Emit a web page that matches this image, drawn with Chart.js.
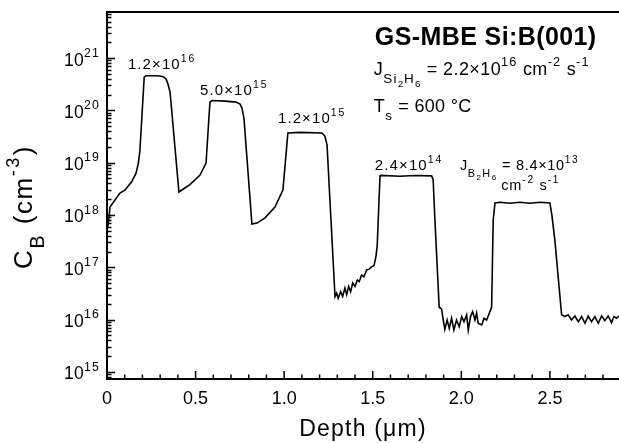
<!DOCTYPE html>
<html>
<head>
<meta charset="utf-8">
<script src="https://cdn.jsdelivr.net/npm/chart.js@4.4.1/dist/chart.umd.min.js"></script>
<style>
  html, body { margin: 0; background: #fff; }
  canvas { display: block; }
</style>
</head>
<body>
<canvas id="profile" width="619" height="443"></canvas>
<script>
// SIMS boron depth profile, five B2H6 flux steps
const depth = [
  0.000, 0.007, 0.017, 0.045, 0.073, 0.102, 0.139, 0.164, 0.177, 0.186,
  0.210, 0.220, 0.271, 0.300, 0.316, 0.333, 0.344, 0.356,
  0.406, 0.429, 0.468, 0.525, 0.559,
  0.581, 0.593, 0.666, 0.728, 0.751, 0.762, 0.773,
  0.818, 0.847, 0.892, 0.948, 0.993,
  1.021, 1.089, 1.213, 1.230, 1.242,
  1.287, 1.296, 1.305, 1.319, 1.330, 1.343, 1.353, 1.364, 1.375, 1.387,
  1.400, 1.413, 1.424, 1.437, 1.450, 1.466, 1.480, 1.494, 1.507, 1.518, 1.525,
  1.541, 1.546, 1.653, 1.738, 1.832, 1.841, 1.851,
  1.875, 1.889, 1.898, 1.907, 1.920, 1.932, 1.945, 1.958, 1.973, 1.988,
  2.002, 2.015, 2.030, 2.039, 2.052, 2.064, 2.077, 2.086, 2.095, 2.115,
  2.128, 2.143, 2.171, 2.180,
  2.190, 2.218, 2.274, 2.331, 2.387, 2.444, 2.500, 2.511, 2.528,
  2.566, 2.585, 2.603, 2.622, 2.641, 2.660, 2.679, 2.698, 2.716, 2.735,
  2.754, 2.773, 2.792, 2.810, 2.829, 2.848, 2.861, 2.876, 2.889
];
const boron = [
  5.6e17, 6.5e17, 1.42e18, 1.93e18, 2.63e18, 3.0e18, 4.3e18, 6.3e18, 9.8e18, 1.74e19,
  4.3e20, 4.6e20, 4.6e20, 4.55e20, 4.4e20, 4.0e20, 3.2e20, 2.24e20,
  2.75e18, 3.1e18, 3.8e18, 5.8e18, 9.8e18,
  1.44e20, 1.54e20, 1.5e20, 1.44e20, 1.32e20, 1.1e20, 7.1e19,
  6.7e17, 7.0e17, 8.8e17, 1.42e18, 3.0e18,
  3.7e19, 3.8e19, 3.7e19, 3.2e19, 2.2e19,
  2.75e16, 3.2e16, 2.56e16, 3.4e16, 2.75e16, 4.0e16, 3.0e16, 4.3e16, 3.4e16, 5.0e16,
  4.3e16, 5.7e16, 5.3e16, 7.1e16, 6.6e16, 8.9e16, 9.2e16, 1.03e17, 1.07e17, 1.6e17, 2.5e17,
  5.6e18, 5.7e18, 5.5e18, 5.7e18, 5.6e18, 4.7e18, 8.0e17,
  1.72e16, 1.58e16, 9.8e15, 6.5e15, 9.8e15, 6.8e15, 1.06e16, 6.3e15, 9.8e15, 7.3e15,
  1.14e16, 9.1e15, 1.23e16, 6.3e15, 1.14e16, 1.42e16, 9.8e15, 1.32e16, 8.5e15, 7.9e15,
  1.06e16, 9.8e15, 1.72e16, 8.0e17,
  1.7e18, 1.75e18, 1.68e18, 1.75e18, 1.68e18, 1.75e18, 1.7e18, 1.0e18, 3.3e17,
  1.23e16, 1.14e16, 1.23e16, 9.8e15, 1.17e16, 9.1e15, 1.14e16, 8.5e15, 1.17e16, 9.1e15,
  1.14e16, 8.5e15, 1.17e16, 9.5e15, 1.17e16, 8.7e15, 1.14e16, 1.06e16, 1.17e16
];

// B2H6 flux for each doped layer (cm^-2 s^-1)
const fluxMantissa = ['1.2', '5.0', '1.2', '2.4', '8.4'];
const fluxExponent = [16, 15, 15, 14, 13];
const fluxLabelAt = [[0.118, 6.1e20], [0.525, 1.96e20], [0.965, 5.7e19], [1.512, 7.2e18], [1.992, 7.2e18]];

const yExponents = [15, 16, 17, 18, 19, 20, 21];
const xTickStep = 0.5;

const FONT = '"Liberation Sans", Arial, Helvetica, sans-serif';
// [size factor, baseline shift factor, extra letter spacing]
const SHIFT = {
  n: [1, 0, 0],
  sup: [0.7, -0.5, 0.8],
  sub: [0.75, 0.45, 0.8],
  sub2: [0.55, 0.65, 0.5]
};

function setFont(ctx, kind, size, bold, spacing) {
  ctx.font = (bold ? 'bold ' : '') + (size * SHIFT[kind][0]).toFixed(1) + 'px ' + FONT;
  ctx.letterSpacing = (spacing + SHIFT[kind][2]) + 'px';
}

function richWidth(ctx, parts, size, bold, spacing) {
  let w = 0;
  for (const [text, kind = 'n'] of parts) {
    setFont(ctx, kind, size, bold, spacing);
    w += ctx.measureText(text).width;
  }
  return w;
}

function drawRich(ctx, x, y, parts, size, bold = false, spacing = 0) {
  for (const [text, kind = 'n'] of parts) {
    setFont(ctx, kind, size, bold, spacing);
    ctx.fillText(text, x, y + SHIFT[kind][1] * size);
    x += ctx.measureText(text).width;
  }
}

const overlay = {
  id: 'overlay',
  afterDraw(chart) {
    const { ctx, chartArea: a, scales: { x, y } } = chart;
    ctx.save();
    ctx.strokeStyle = '#000';
    ctx.fillStyle = '#000';
    ctx.textBaseline = 'alphabetic';
    ctx.textAlign = 'left';

    // top frame line
    ctx.lineWidth = 2;
    ctx.beginPath();
    ctx.moveTo(a.left - 1, a.top);
    ctx.lineTo(a.right, a.top);
    ctx.stroke();

    // inward ticks on the depth axis
    ctx.lineWidth = 1.5;
    for (let i = 0; i / 10 <= x.max + 1e-9; i++) {
      const px = x.getPixelForValue(i / 10);
      const len = i % 5 === 0 ? 8 : 4.5;
      ctx.beginPath();
      ctx.moveTo(px, a.bottom);
      ctx.lineTo(px, a.bottom - len);
      ctx.stroke();
    }

    // inward decade and minor ticks on the concentration axis
    for (let e = 14; e <= 21; e++) {
      for (let m = 1; m <= 9; m++) {
        const v = m * Math.pow(10, e);
        if (v < y.min || v > y.max) continue;
        const py = Math.round(y.getPixelForValue(v)) + 0.5;
        ctx.beginPath();
        ctx.moveTo(a.left, py);
        ctx.lineTo(a.left + (m === 1 ? 8 : 4.5), py);
        ctx.stroke();
      }
    }

    // 10^n labels
    for (const e of yExponents) {
      const py = y.getPixelForValue(Math.pow(10, e));
      const parts = [['10'], [String(e), 'sup']];
      const w = richWidth(ctx, parts, 17.5, false, 0.3);
      drawRich(ctx, a.left - 7 - w, py + 7.5, parts, 17.5, false, 0.3);
    }

    // axis titles
    const xt = [['Depth (μm)']];
    const xw = richWidth(ctx, xt, 23, false, 1.2);
    drawRich(ctx, (a.left + a.right) / 2 - xw / 2, 436, xt, 23, false, 1.2);

    const yt = [['C'], ['B', 'sub'], [' (cm'], ['-3', 'sup'], [')']];
    const yw = richWidth(ctx, yt, 26, false, 1.6);
    ctx.save();
    ctx.translate(32, 207);
    ctx.rotate(-Math.PI / 2);
    drawRich(ctx, -yw / 2, 0, yt, 26, false, 1.6);
    ctx.restore();

    // flux labels above each layer
    fluxMantissa.forEach((mant, i) => {
      const px = x.getPixelForValue(fluxLabelAt[i][0]);
      const py = y.getPixelForValue(fluxLabelAt[i][1]);
      if (i === 4) {
        drawRich(ctx, px, py, [['J'], ['B', 'sub'], ['2', 'sub2'], ['H', 'sub'], ['6', 'sub2'],
          [' = ' + mant + '×10'], [String(fluxExponent[i]), 'sup']], 14.5, false, 0.7);
      } else {
        drawRich(ctx, px, py, [[mant + '×10'], [String(fluxExponent[i]), 'sup']], 15, false, 1.1);
      }
    });
    const unitX = x.getPixelForValue(2.225), unitY = y.getPixelForValue(3.0e18);
    drawRich(ctx, unitX, unitY, [['cm'], ['-2', 'sup'], [' s'], ['-1', 'sup']], 14.5, false, 0.9);

    // growth conditions
    const cx = x.getPixelForValue(1.512);
    drawRich(ctx, cx, y.getPixelForValue(1.77e21), [['GS-MBE Si:B(001)']], 25, true, 0.4);
    drawRich(ctx, cx - 1, y.getPixelForValue(4.7e20),
      [['J'], ['Si', 'sub'], ['2', 'sub2'], ['H', 'sub'], ['6', 'sub2'], [' = 2.2×10'], ['16', 'sup'],
       [' cm'], ['-2', 'sup'], [' s'], ['-1', 'sup']], 18, false, 0.4);
    drawRich(ctx, cx - 1, y.getPixelForValue(9.4e19), [['T'], ['s', 'sub'], [' = 600 °C']], 18, false, 0.3);

    ctx.restore();
  }
};

new Chart(document.getElementById('profile'), {
  type: 'line',
  data: {
    datasets: [{
      data: depth.map((d, i) => ({ x: d, y: boron[i] })),
      borderColor: '#000',
      borderWidth: 1.6,
      pointRadius: 0,
      tension: 0,
      fill: false
    }]
  },
  options: {
    responsive: false,
    devicePixelRatio: 1,
    animation: false,
    layout: { padding: { top: 12, right: 0, left: 0, bottom: 0 } },
    plugins: {
      legend: { display: false },
      tooltip: { enabled: false }
    },
    scales: {
      x: {
        type: 'linear',
        min: 0,
        max: 2.89,
        afterFit: s => { s.height = 64; },
        grid: { display: false, drawTicks: false },
        border: { display: true, color: '#000', width: 2 },
        ticks: {
          stepSize: xTickStep,
          includeBounds: false,
          autoSkip: false,
          maxRotation: 0,
          padding: 9,
          color: '#000',
          font: { family: FONT, size: 18 },
          callback: v => (v === 0 ? '0' : v.toFixed(1))
        }
      },
      y: {
        type: 'logarithmic',
        min: 7.3e14,
        max: 7.6e21,
        afterFit: s => { s.width = 107; },
        grid: { display: false, drawTicks: false },
        border: { display: true, color: '#000', width: 2 },
        ticks: { display: false }
      }
    }
  },
  plugins: [overlay]
});
</script>
</body>
</html>
